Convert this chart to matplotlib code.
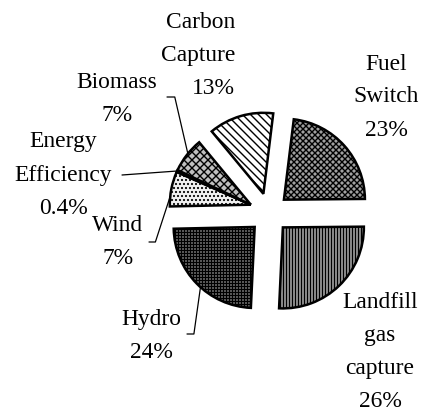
import matplotlib
matplotlib.use("Agg")
import matplotlib.pyplot as plt
import numpy as np

# Data (clockwise from the top)
labels = ["Fuel\nSwitch", "Landfill\ngas\ncapture", "Hydro", "Wind",
          "Energy\nEfficiency", "Biomass", "Carbon\nCapture"]
shares = [23, 26, 24, 7, 0.4, 7, 13]
hatches = ["x" * 4, "|" * 4, "+" * 4, "." * 3, "", "x" * 3, "\\" * 3]
fills = ["#a0a0a0", "#a8a8a8", "#909090", "#f2f2f2", "white", "#c0c0c0", "white"]
group = [3, 4, 5]  # wind / efficiency / biomass pulled out together

# drawn at 72 dpi so 1 pt == 1 px and hatch spacing lands on whole pixels
DPI = 72
W, H = 426, 415
CX, CY, R = 269, H - 213, 81
OFF = 20

plt.rcParams.update({"font.family": "Liberation Serif", "font.size": 23.5,
                     "hatch.linewidth": 1.4})

fig = plt.figure(figsize=(W / DPI, H / DPI), dpi=DPI)
ax = fig.add_axes([0, 0, 1, 1])

wedges, _ = ax.pie(shares, startangle=83, counterclock=False, radius=R,
                   center=(CX, CY), explode=[OFF] * len(shares), colors=fills,
                   wedgeprops=dict(edgecolor="black", linewidth=2.5))
for w, h in zip(wedges, hatches):
    w.set_hatch(h)

# shift the small slices as one block
t_lo = min(wedges[i].theta1 for i in group)
t_hi = max(wedges[i].theta2 for i in group)
tm = np.deg2rad(0.5 * (t_lo + t_hi))
for i in group:
    wedges[i].set_center((CX + OFF * np.cos(tm), CY + OFF * np.sin(tm)))

ax.set_xlim(0, W); ax.set_ylim(0, H)
ax.set_aspect("equal")
ax.axis("off")


def py(y):  # pixel row (from top) -> data y
    return H - y


def edge_pt(i, ang):
    cx, cy = wedges[i].center
    a = np.deg2rad(ang)
    return cx + R * np.cos(a), cy + R * np.sin(a)


# label text: (x, y_top, ha)
lab_pos = {0: (386, 97, "center"), 1: (380, 352, "center"), 2: (151, 336, "center"),
           3: (118, 242, "center"), 4: (63, 175, "center"), 5: (117, 99, "center"),
           6: (235, 55, "right")}
for i, (x, y, ha) in lab_pos.items():
    ax.text(x, py(y), f"{labels[i]}\n{shares[i]:g}%", ha=ha, va="center",
            multialignment="right" if ha == "right" else "center", linespacing=1.75)

# leader lines: slice index, angle on rim, text-side start, bend angle
leaders = [(5, 141, (167, 97), 103), (4, None, (122, 175), None),
           (3, 174, (149, 242), 72), (2, 228, (187, 334), 82)]
for i, ang, (sx, sy), bend in leaders:
    if ang is None:
        ang = 0.5 * (wedges[i].theta1 + wedges[i].theta2)
    cs = "arc3" if bend is None else f"angle,angleA=0,angleB={bend},rad=0"
    ax.annotate("", xy=edge_pt(i, ang), xytext=(sx, py(sy)),
                arrowprops=dict(arrowstyle="-", lw=1.25, color="black",
                                connectionstyle=cs, shrinkA=0, shrinkB=0))

fig.savefig("out.png", dpi=DPI)
